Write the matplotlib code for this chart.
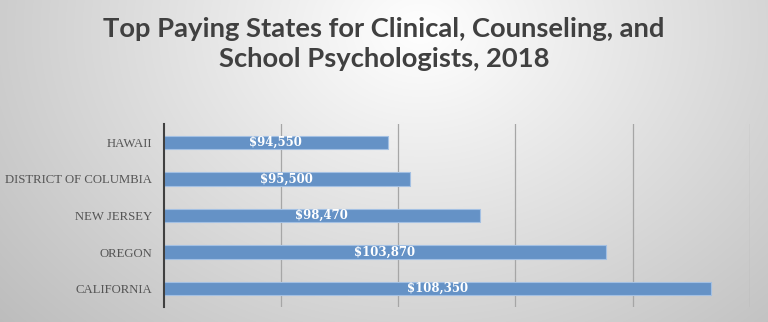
import numpy as np
import matplotlib
matplotlib.use("Agg")
import matplotlib.pyplot as plt

states = ["HAWAII", "DISTRICT OF COLUMBIA", "NEW JERSEY", "OREGON", "CALIFORNIA"]
salaries = [94550, 95500, 98470, 103870, 108350]
title_lines = ["Top Paying States for Clinical, Counseling, and",
               "School Psychologists, 2018"]

fig = plt.figure(figsize=(7.68, 3.22), dpi=100)

# radial gradient background
bg = fig.add_axes([0, 0, 1, 1], zorder=-10)
h, w = 322, 768
yy, xx = np.mgrid[0:h, 0:w]
cx, cy = 420, 30
d = np.sqrt(((xx - cx) / 560.0) ** 2 + ((yy - cy) / 440.0) ** 2)
v = 1.0 - 0.26 * np.clip(d, 0, 1.3)
v = np.clip(v, 0.73, 1.0)
bg.imshow(np.dstack([v, v, v]), aspect="auto", extent=[0, 1, 0, 1])
bg.axis("off")

ax = fig.add_axes([163.5 / 768, 1 - 307 / 322, (750 - 163.5) / 768, (307 - 124) / 322])
ax.patch.set_alpha(0)

y = np.arange(len(states))
left = 85000
ax.barh(y, [s - left for s in salaries], left=left, height=0.37,
        color="#6592C6", edgecolor="#A3C0E3", linewidth=0.8, zorder=3)
ax.set_xlim(85000, 110000)
ax.set_ylim(len(states) - 0.5, -0.5)
ax.set_yticks(y)
ax.set_yticklabels(states, family="Liberation Serif", fontsize=9.2, color="#555555")
ax.tick_params(axis="y", length=0, pad=8)
ax.set_xticks([90000, 95000, 100000, 105000, 110000])
ax.tick_params(axis="x", length=0, labelbottom=False)
ax.grid(axis="x", color="#A6A6A6", linewidth=0.9, zorder=0)
for s in ["top", "right", "bottom"]:
    ax.spines[s].set_visible(False)
ax.spines["left"].set_color("#404040")
ax.spines["left"].set_linewidth(1.5)
ax.spines["left"].set_zorder(4)

for yi, s in zip(y, salaries):
    ax.text((left + s) / 2, yi, f"${s:,}", ha="center", va="center",
            color="white", fontweight="bold", family="DejaVu Serif", fontsize=8.5, zorder=5)

# title: fit first line to ~563 px wide
renderer = fig.canvas.get_renderer()
fam = ["DejaVu Sans Condensed", "Lato", "DejaVu Sans"]
t1 = fig.text(0.5, 1 - 37 / 322, title_lines[0], ha="center", va="baseline", fontsize=20,
              fontweight="bold", color="#404040", family=fam)
wpx = t1.get_window_extent(renderer).width
fs = 20 * 563.0 / wpx
t1.set_fontsize(fs)
fig.text(0.5, 1 - 67 / 322, title_lines[1], ha="center", va="baseline", fontsize=fs,
         fontweight="bold", color="#404040", family=fam)

fig.savefig("out.png", dpi=100)
